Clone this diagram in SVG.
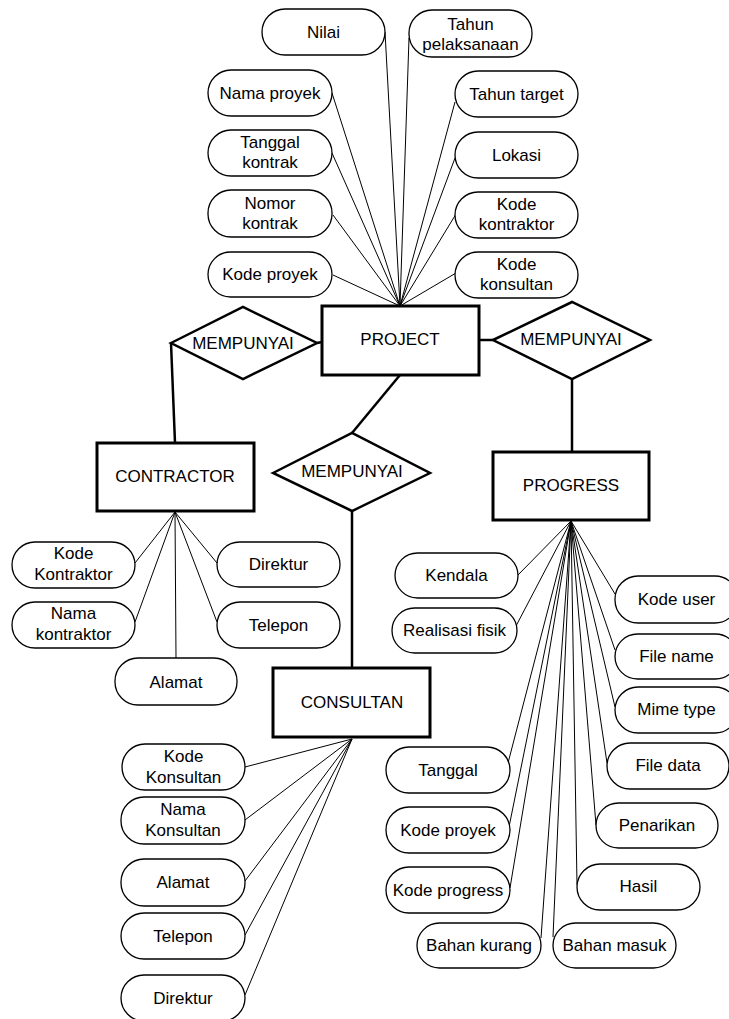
<svg xmlns="http://www.w3.org/2000/svg" width="729" height="1019" viewBox="0 0 729 1019">
<style>
text{font-family:"Liberation Sans",Arial,sans-serif;font-size:17px;fill:#000;text-anchor:middle}
.attr{fill:#fff;stroke:#000;stroke-width:1.3}
.ent{fill:#fff;stroke:#000;stroke-width:3}
.rel{fill:#fff;stroke:#000;stroke-width:2.5;stroke-linejoin:miter}
.thin{stroke:#000;stroke-width:1;fill:none}
.thick{stroke:#000;stroke-width:2.5;fill:none}
</style>
<rect width="729" height="1019" fill="#fff"/>
<g id="connectors">
<g class="thin">
<line x1="385" y1="32" x2="400" y2="306"/>
<line x1="409" y1="38" x2="400" y2="306"/>
<line x1="332" y1="93" x2="400" y2="306"/>
<line x1="455" y1="102" x2="400" y2="306"/>
<line x1="332" y1="153" x2="400" y2="306"/>
<line x1="455" y1="158" x2="400" y2="306"/>
<line x1="333" y1="215" x2="400" y2="306"/>
<line x1="456" y1="214" x2="400" y2="306"/>
<line x1="333" y1="275" x2="400" y2="306"/>
<line x1="456" y1="273" x2="400" y2="306"/>
<line x1="135" y1="563" x2="175" y2="512"/>
<line x1="135" y1="622" x2="175" y2="512"/>
<line x1="176" y1="658" x2="175" y2="512"/>
<line x1="217" y1="563" x2="175" y2="512"/>
<line x1="217" y1="622" x2="175" y2="512"/>
<line x1="245" y1="767" x2="352" y2="739"/>
<line x1="245" y1="820" x2="352" y2="739"/>
<line x1="245" y1="881" x2="352" y2="739"/>
<line x1="245" y1="935" x2="352" y2="739"/>
<line x1="245" y1="995" x2="352" y2="739"/>
<line x1="518" y1="575" x2="571" y2="521"/>
<line x1="516" y1="626" x2="571" y2="521"/>
<line x1="615" y1="594" x2="571" y2="521"/>
<line x1="615" y1="650" x2="571" y2="521"/>
<line x1="615" y1="707" x2="571" y2="521"/>
<line x1="607" y1="763" x2="571" y2="521"/>
<line x1="596" y1="825" x2="571" y2="521"/>
<line x1="577" y1="885" x2="571" y2="521"/>
<line x1="553" y1="937" x2="571" y2="521"/>
<line x1="541" y1="938" x2="571" y2="521"/>
<line x1="510" y1="888" x2="571" y2="521"/>
<line x1="509" y1="827" x2="571" y2="521"/>
<line x1="508" y1="763" x2="571" y2="521"/>
</g>
<g class="thick">
<line x1="317" y1="343" x2="322" y2="342"/>
<line x1="171" y1="343" x2="175" y2="443"/>
<line x1="479" y1="340" x2="493" y2="340"/>
<line x1="572" y1="379" x2="572" y2="452"/>
<line x1="400" y1="375" x2="352" y2="433"/>
<line x1="352" y1="511" x2="352" y2="668"/>
</g>
</g>
<g id="project"><rect class="ent" x="322" y="306" width="157" height="69"/><text x="400" y="345">PROJECT</text></g>
<g id="contractor"><rect class="ent" x="97" y="443" width="157" height="68"/><text x="175" y="482">CONTRACTOR</text></g>
<g id="consultan"><rect class="ent" x="273" y="668" width="157" height="69"/><text x="352" y="708">CONSULTAN</text></g>
<g id="progress"><rect class="ent" x="493" y="452" width="156" height="68"/><text x="571" y="491">PROGRESS</text></g>
<g id="rel-left"><polygon class="rel" points="171,343 243,307 317,343 243,379"/><text x="243" y="349">MEMPUNYAI</text></g>
<g id="rel-right"><polygon class="rel" points="493,340 572,302 650,340 572,379"/><text x="571" y="345">MEMPUNYAI</text></g>
<g id="rel-mid"><polygon class="rel" points="273,473 352,433 430,473 352,511"/><text x="352" y="477">MEMPUNYAI</text></g>
<g id="a-nilai"><rect class="attr" x="262" y="9" width="123" height="46" rx="23"/><text x="323.5" y="38">Nilai</text></g>
<g id="a-tahun-pelaksanaan"><rect class="attr" x="409" y="10" width="123" height="47" rx="23"/><text x="470.5" y="30">Tahun</text><text x="470.5" y="50">pelaksanaan</text></g>
<g id="a-nama-proyek"><rect class="attr" x="208" y="70" width="124" height="46" rx="23"/><text x="270" y="99">Nama proyek</text></g>
<g id="a-tahun-target"><rect class="attr" x="455" y="71" width="123" height="46" rx="23"/><text x="516.5" y="100">Tahun target</text></g>
<g id="a-tanggal-kontrak"><rect class="attr" x="208" y="130" width="124" height="46" rx="23"/><text x="270" y="148">Tanggal</text><text x="270" y="168">kontrak</text></g>
<g id="a-lokasi"><rect class="attr" x="455" y="132" width="123" height="46" rx="23"/><text x="516.5" y="161">Lokasi</text></g>
<g id="a-nomor-kontrak"><rect class="attr" x="208" y="190" width="124" height="47" rx="23"/><text x="270" y="209">Nomor</text><text x="270" y="229">kontrak</text></g>
<g id="a-kode-kontraktor"><rect class="attr" x="455" y="192" width="123" height="46" rx="23"/><text x="516.5" y="210">Kode</text><text x="516.5" y="230">kontraktor</text></g>
<g id="a-kode-proyek"><rect class="attr" x="208" y="252" width="124" height="45" rx="22.5"/><text x="270" y="280">Kode proyek</text></g>
<g id="a-kode-konsultan"><rect class="attr" x="455" y="252" width="123" height="46" rx="23"/><text x="516.5" y="270">Kode</text><text x="516.5" y="290">konsultan</text></g>
<g id="c-kode-kontraktor"><rect class="attr" x="12" y="542" width="123" height="46" rx="23"/><text x="73.5" y="559">Kode</text><text x="73.5" y="580">Kontraktor</text></g>
<g id="c-nama-kontraktor"><rect class="attr" x="12" y="602" width="123" height="46" rx="23"/><text x="73.5" y="619">Nama</text><text x="73.5" y="640">kontraktor</text></g>
<g id="c-alamat"><rect class="attr" x="115" y="658" width="122" height="47" rx="23"/><text x="176" y="688">Alamat</text></g>
<g id="c-direktur"><rect class="attr" x="217" y="542" width="123" height="45" rx="22.5"/><text x="278.5" y="570">Direktur</text></g>
<g id="c-telepon"><rect class="attr" x="217" y="602" width="123" height="46" rx="23"/><text x="278.5" y="631">Telepon</text></g>
<g id="k-kode-konsultan"><rect class="attr" x="122" y="744" width="123" height="46" rx="23"/><text x="183.5" y="762">Kode</text><text x="183.5" y="783">Konsultan</text></g>
<g id="k-nama-konsultan"><rect class="attr" x="121" y="797" width="124" height="47" rx="23"/><text x="183" y="815">Nama</text><text x="183" y="836">Konsultan</text></g>
<g id="k-alamat"><rect class="attr" x="121" y="859" width="124" height="47" rx="23"/><text x="183" y="888">Alamat</text></g>
<g id="k-telepon"><rect class="attr" x="121" y="913" width="124" height="46" rx="23"/><text x="183" y="942">Telepon</text></g>
<g id="k-direktur"><rect class="attr" x="121" y="975" width="124" height="46" rx="23"/><text x="183" y="1004">Direktur</text></g>
<g id="p-kendala"><rect class="attr" x="395" y="553" width="123" height="45" rx="22.5"/><text x="456.5" y="581">Kendala</text></g>
<g id="p-realisasi-fisik"><rect class="attr" x="392" y="608" width="125" height="45" rx="22.5"/><text x="454.5" y="636">Realisasi fisik</text></g>
<g id="p-kode-user"><rect class="attr" x="615" y="576" width="123" height="47" rx="23"/><text x="676.5" y="605">Kode user</text></g>
<g id="p-file-name"><rect class="attr" x="615" y="634" width="123" height="45" rx="22.5"/><text x="676.5" y="662">File name</text></g>
<g id="p-mime-type"><rect class="attr" x="615" y="687" width="123" height="46" rx="23"/><text x="676.5" y="715">Mime type</text></g>
<g id="p-file-data"><rect class="attr" x="607" y="743" width="122" height="46" rx="23"/><text x="668" y="771">File data</text></g>
<g id="p-penarikan"><rect class="attr" x="596" y="803" width="122" height="45" rx="22.5"/><text x="657" y="831">Penarikan</text></g>
<g id="p-hasil"><rect class="attr" x="577" y="864" width="123" height="46" rx="23"/><text x="638.5" y="892">Hasil</text></g>
<g id="p-bahan-masuk"><rect class="attr" x="553" y="923" width="123" height="45" rx="22.5"/><text x="614.5" y="951">Bahan masuk</text></g>
<g id="p-bahan-kurang"><rect class="attr" x="417" y="923" width="124" height="45" rx="22.5"/><text x="479" y="951">Bahan kurang</text></g>
<g id="p-kode-progress"><rect class="attr" x="386" y="867" width="124" height="46" rx="23"/><text x="448" y="896">Kode progress</text></g>
<g id="p-kode-proyek"><rect class="attr" x="386" y="807" width="124" height="46" rx="23"/><text x="448" y="836">Kode proyek</text></g>
<g id="p-tanggal"><rect class="attr" x="386" y="747" width="124" height="46" rx="23"/><text x="448" y="776">Tanggal</text></g>
</svg>
